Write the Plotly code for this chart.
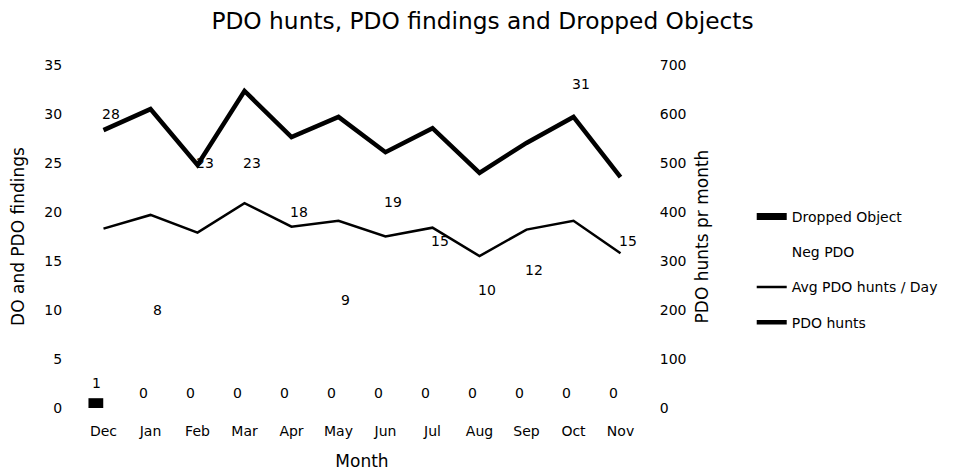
import plotly.graph_objects as go

months = ['Dec', 'Jan', 'Feb', 'Mar', 'Apr', 'May', 'Jun', 'Jul', 'Aug', 'Sep', 'Oct', 'Nov']
dropped_objects = [1, 0, 0, 0, 0, 0, 0, 0, 0, 0, 0, 0]
neg_pdo = [28, 8, 23, 23, 18, 9, 19, 15, 10, 12, 31, 15]
avg_hunts_per_day = [18.3, 19.7, 17.9, 20.9, 18.5, 19.1, 17.5, 18.4, 15.5, 18.2, 19.1, 15.8]
pdo_hunts = [567, 610, 496, 647, 553, 594, 522, 571, 480, 541, 594, 471]

FONT = 'DejaVu Sans'

fig = go.Figure()

# bars (the Neg PDO series is white in the original, so only its labels show)
fig.add_trace(go.Bar(x=months, y=dropped_objects, name='Dropped Object',
                     marker=dict(color='black', line=dict(width=0)),
                     showlegend=False, legendgroup='do'))
# legend-only entry so the swatch looks like the wide Excel bar key
fig.add_trace(go.Scatter(x=[None], y=[None], mode='lines', name='Dropped Object',
                         line=dict(color='black', width=7), legendgroup='do'))
fig.add_trace(go.Bar(x=months, y=neg_pdo, name='Neg PDO',
                     marker=dict(color='white', line=dict(width=0)),
                     legendgroup='neg'))
fig.add_trace(go.Scatter(x=months, y=avg_hunts_per_day, mode='lines',
                         name='Avg PDO hunts / Day',
                         line=dict(color='black', width=2.5), legendgroup='avg'))
fig.add_trace(go.Scatter(x=months, y=pdo_hunts, mode='lines', name='PDO hunts',
                         yaxis='y2', line=dict(color='black', width=4.5),
                         legendgroup='hunts'))

annotations = []
for m, v in zip(months, neg_pdo):
    annotations.append(dict(x=m, y=v, text=str(v), showarrow=False,
                            xshift=7, yshift=20, font=dict(size=14)))
for m, v in zip(months, dropped_objects):
    annotations.append(dict(x=m, y=v, text=str(v), showarrow=False,
                            xshift=-7, yshift=15, font=dict(size=14)))

# page body has an 8px margin, so the figure is 8px smaller than the window
fig.update_layout(
    width=949, height=465,
    margin=dict(l=72, r=313, t=57, b=65),
    paper_bgcolor='white', plot_bgcolor='white',
    font=dict(family=FONT, size=14, color='black'),
    title=dict(text='PDO hunts, PDO findings and Dropped Objects',
               x=0.5, xref='container', xanchor='center',
               y=0.973, yanchor='middle', font=dict(size=23.3)),
    barmode='group', bargap=0.36, bargroupgap=0,
    legend=dict(x=1.191, xanchor='left', y=0.404, yanchor='middle',
                tracegroupgap=14, font=dict(size=14),
                bgcolor='rgba(0,0,0,0)'),
    xaxis=dict(title=dict(text='Month', standoff=17, font=dict(size=17)),
               automargin=False,
               showgrid=False, showline=False, zeroline=False,
               ticks='outside', ticklen=10, tickcolor='rgba(0,0,0,0)'),
    yaxis=dict(title=dict(text='DO and PDO findings', standoff=15, font=dict(size=17)),
               automargin=False,
               range=[0, 35], dtick=5, showgrid=False, showline=False,
               zeroline=False, ticks='outside', ticklen=14,
               tickcolor='rgba(0,0,0,0)'),
    yaxis2=dict(title=dict(text='PDO hunts pr month', standoff=10, font=dict(size=17)),
                automargin=False,
                overlaying='y', side='right', range=[0, 700], dtick=100,
                showgrid=False, showline=False, zeroline=False,
                ticks='outside', ticklen=12, tickcolor='rgba(0,0,0,0)'),
    annotations=annotations,
)

fig.write_html('out.html')
